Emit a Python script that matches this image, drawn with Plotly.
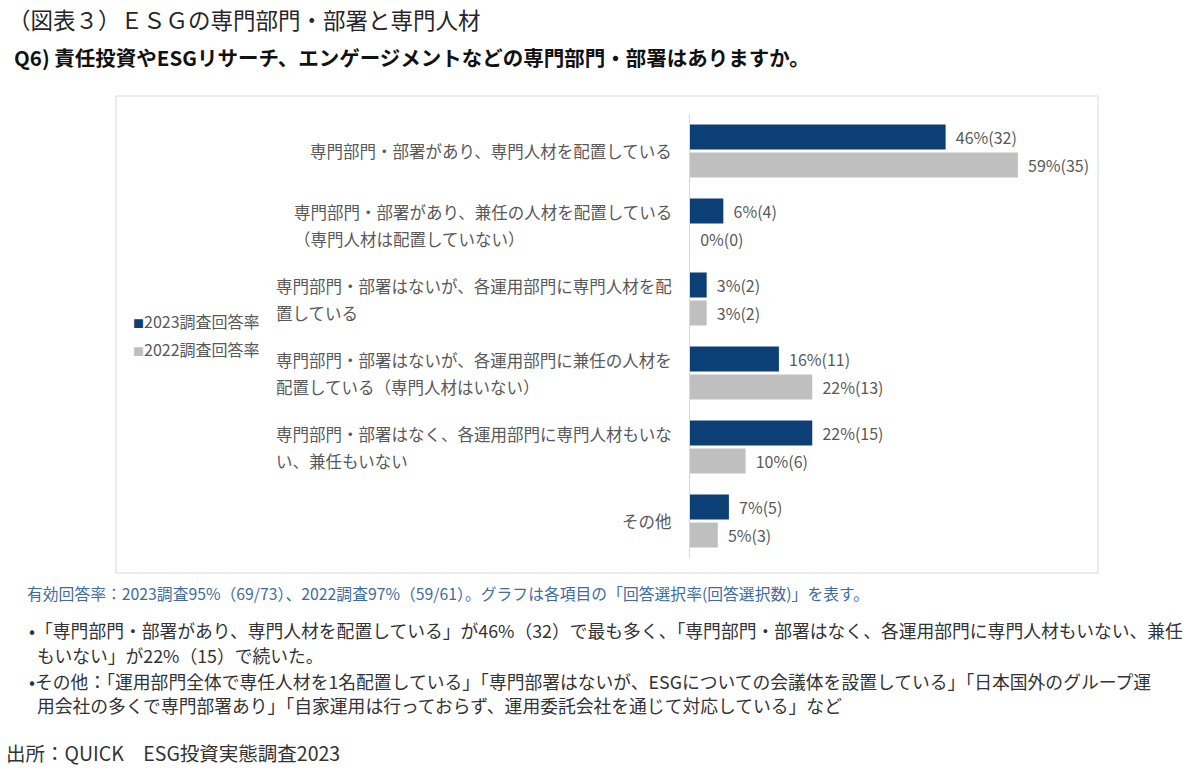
import plotly.graph_objects as go

# ---- data ----
categories = [
    "専門部門・部署があり、専門人材を配置している",
    "専門部門・部署があり、兼任の人材を配置している<br>（専門人材は配置していない）",
    "専門部門・部署はないが、各運用部門に専門人材を配<br>置している",
    "専門部門・部署はないが、各運用部門に兼任の人材を<br>配置している（専門人材はいない）",
    "専門部門・部署はなく、各運用部門に専門人材もいな<br>い、兼任もいない",
    "その他",
]
series_names = ["2023調査回答率", "2022調査回答率"]
rate_2023 = [46, 6, 3, 16, 22, 7]
count_2023 = [32, 4, 2, 11, 15, 5]
rate_2022 = [59, 0, 3, 22, 10, 5]
count_2022 = [35, 0, 2, 13, 6, 3]

title_text = "（図表３）ＥＳＧの専門部門・部署と専門人材"
subtitle_text = "Q6) 責任投資やESGリサーチ、エンゲージメントなどの専門部門・部署はありますか。"
note_text = "有効回答率：2023調査95%（69/73）、2022調査97%（59/61）。グラフは各項目の「回答選択率(回答選択数)」を表す。"
bullet_lines = [
    "•「専門部門・部署があり、専門人材を配置している」が46%（32）で最も多く、「専門部門・部署はなく、各運用部門に専門人材もいない、兼任",
    "  もいない」が22%（15）で続いた。",
    "•その他：「運用部門全体で専任人材を1名配置している」「専門部署はないが、ESGについての会議体を設置している」「日本国外のグループ運",
    "  用会社の多くで専門部署あり」「自家運用は行っておらず、運用委託会社を通じて対応している」など",
]
source_text = "出所：QUICK　ESG投資実態調査2023"

# ---- style ----
C23 = "#0b3f76"
C22 = "#bfbfbf"
TXT = "#595959"
FONT = "Noto Sans CJK JP"

W, H = 1200, 770
L, R, T, B = 690, 1079, 114, 558

def px(x):
    return (x - L) / (R - L)

def py(y):
    return (B - y) / (B - T)

fig = go.Figure()
for name, rates, counts, col in [
    (series_names[0], rate_2023, count_2023, C23),
    (series_names[1], rate_2022, count_2022, C22),
]:
    fig.add_trace(go.Bar(
        y=categories, x=rates, orientation="h", name=name,
        marker=dict(color=col, line=dict(width=0)),
        text=[f"{r}%({c})" for r, c in zip(rates, counts)],
        texttemplate="\u00a0\u00a0%{text}",
        textposition="outside", cliponaxis=False,
        textfont=dict(family=FONT, size=16, color=TXT),
        showlegend=False, hoverinfo="skip",
    ))

fig.update_layout(
    width=W, height=H,
    margin=dict(l=L, r=W - R, t=T, b=H - B, pad=0),
    paper_bgcolor="white", plot_bgcolor="white",
    barmode="group", bargap=0.243, bargroupgap=0.107,
    font=dict(family=FONT, color=TXT),
    xaxis=dict(range=[0, 70], visible=False, fixedrange=True),
    yaxis=dict(autorange="reversed", showticklabels=False, ticks="",
               showgrid=False, zeroline=False, showline=True,
               linecolor="#d9d9d9", linewidth=1, fixedrange=True),
)

ann = []
# category labels (right-anchored block, lines left-aligned)
for cat in categories:
    parts = cat.split("<br>")
    ann.append(dict(
        x=px(674), xref="paper", y=cat, yref="y",
        xanchor="right", yanchor="middle", align="left",
        text="<br>".join(f"<span style='font-size:16.5px'>{p}</span>" for p in parts),
        showarrow=False, font=dict(family=FONT, size=21, color=TXT),
    ))

# legend (as text)
for i, (name, col) in enumerate([(series_names[0], C23), (series_names[1], C22)]):
    ann.append(dict(
        x=px(131), xref="paper", y=py(321 + 28 * i), yref="paper",
        xanchor="left", yanchor="middle", showarrow=False,
        text=f"<span style='color:{col};font-size:11px'>■</span>{name}",
        font=dict(family=FONT, size=16, color=TXT),
    ))

ann.append(dict(x=px(6), xref="paper", y=py(19), yref="paper", xanchor="left", yanchor="middle",
                showarrow=False, text=title_text, font=dict(family=FONT, size=22.5, color="#262626")))
ann.append(dict(x=px(12), xref="paper", y=py(57), yref="paper", xanchor="left", yanchor="middle",
                showarrow=False, text=f"<b>{subtitle_text}</b>", font=dict(family=FONT, size=20.5, color="#111111")))
ann.append(dict(x=px(25), xref="paper", y=py(593), yref="paper", xanchor="left", yanchor="middle",
                showarrow=False, text=note_text, font=dict(family=FONT, size=15.8, color="#3f6c9c")))
for i, (line, yy) in enumerate(zip(bullet_lines, [630, 655, 681, 705])):
    ann.append(dict(x=px(27), xref="paper", y=py(yy), yref="paper", xanchor="left", yanchor="middle",
                    showarrow=False, text=line.replace("  ", "\u00a0\u00a0"),
                    font=dict(family=FONT, size=17.8, color="#333333")))
ann.append(dict(x=px(4), xref="paper", y=py(752), yref="paper", xanchor="left", yanchor="middle",
                showarrow=False, text=source_text, font=dict(family=FONT, size=19.5, color="#333333")))

fig.update_layout(annotations=ann)

fig.add_shape(type="rect", xref="paper", yref="paper",
              x0=px(116), x1=px(1098), y0=py(573), y1=py(96),
              line=dict(color="#d9d9d9", width=1), fillcolor="rgba(0,0,0,0)", layer="below")

fig.write_html("out.html")
